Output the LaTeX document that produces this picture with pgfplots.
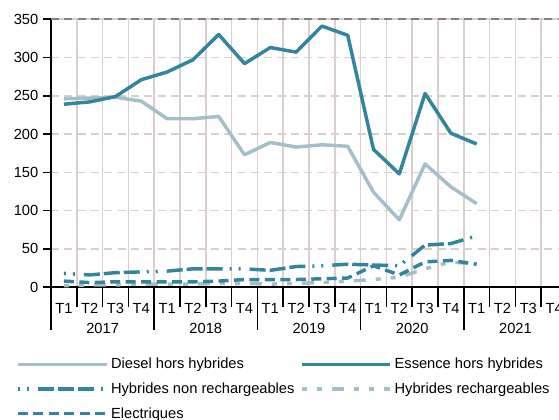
\documentclass[border=0pt]{standalone}
\usepackage{pgfplots}
\pgfplotsset{compat=1.18}
\usepackage{fontspec}
\setmainfont{Liberation Sans}
\definecolor{teal1}{HTML}{31859C}
\definecolor{teal2}{HTML}{A3BFC9}
\definecolor{gridc}{HTML}{DACECE}
\begin{document}
\begin{tikzpicture}
\begin{axis}[
  name=ax, scale only axis, width=387pt, height=201pt,
  xmin=-0.5, xmax=19.5, ymin=0, ymax=350,
  axis lines=left, axis line style={-, black, line width=1.1pt},
  clip mode=individual,
  font=\fontsize{11}{13}\selectfont,
  tick label style={font=\fontsize{11}{13}\selectfont},
  /pgf/number format/assume math mode=true,
  ytick={0,50,...,350},
  ymajorgrids, major grid style={gridc, line width=1.1pt, dash pattern=on 6pt off 4pt},
  xtick={0,...,19},
  xticklabels={T1,T2,T3,T4,T1,T2,T3,T4,T1,T2,T3,T4,T1,T2,T3,T4,T1,T2,T3,T4},
  xticklabel style={yshift=-2.5pt},
  minor xtick={-0.5,0.5,...,19.5},
  xminorgrids, minor grid style={gridc, line width=1.1pt},
  tick align=outside, major tick length=6pt, minor tick length=15pt,
  major x tick style={draw=none},
  minor x tick style={black, line width=1.1pt},
  ytick style={black, line width=1.1pt},
  extra x ticks={-0.5,3.5,7.5,11.5,15.5,19.5},
  extra x tick labels={},
  extra x tick style={major tick length=32pt, major x tick style={draw=black, line width=1.1pt}, grid=none},
  legend columns=2,
  legend style={at={(0,0)}, anchor=north west, xshift=-26.25pt, yshift=-51pt, draw=none, fill=none, inner sep=0pt, font=\fontsize{11}{13}\selectfont, row sep=5pt, /tikz/every even column/.append style={column sep=2pt}},
  legend cell align=left,
  legend image code/.code={\draw[#1, line cap=butt] (0pt,0pt) -- (66.5pt,0pt);},
]
\addplot[teal2, line width=2.6pt, line join=round] coordinates {
(0,246)(1,247)(2,248)(3,243)(4,220)(5,220)(6,223)(7,173)(8,189)(9,183)(10,186)(11,184)(12,124)(13,88)(14,161)(15,131)(16,109)};
\addlegendentry{Diesel hors hybrides}
\addplot[teal1, line width=2.6pt, line join=round] coordinates {
(0,239)(1,242)(2,249)(3,271)(4,281)(5,297)(6,330)(7,292)(8,313)(9,307)(10,341)(11,329)(12,180)(13,148)(14,253)(15,201)(16,187)};
\addlegendentry{Essence hors hybrides}
\addplot[teal1, line width=2.6pt, dash pattern=on 1.5pt off 5.25pt on 1.5pt off 6.75pt on 12pt off 3pt on 12pt off 3pt on 12pt off 5.25pt] coordinates {
(0,18)(1,16)(2,19)(3,20)(4,21)(5,24)(6,24)(7,24)(8,22)(9,27)(10,28)(11,30)(12,29)(13,28)(14,55)(15,57)(16,67)};
\addlegendentry{Hybrides non rechargeables}
\addplot[teal2, line width=2.6pt, dash pattern=on 3.75pt off 7.5pt on 3.75pt off 7.5pt on 9pt off 7.5pt] coordinates {
(0,2)(1,3)(2,3)(3,4)(4,4)(5,4)(6,5)(7,5)(8,4)(9,5)(10,6)(11,8)(12,10)(13,13)(14,24)(15,33)(16,30)};
\addlegendentry{Hybrides rechargeables}
\addplot[teal1, line width=2.6pt, dash pattern=on 7.5pt off 4.1pt] coordinates {
(0,8)(1,6)(2,7)(3,7)(4,7)(5,7)(6,8)(7,10)(8,10)(9,10)(10,11)(11,12)(12,28)(13,16)(14,33)(15,35)(16,30)};
\addlegendentry{Electriques}
\draw[gridc, line width=1.1pt] (rel axis cs:0,1) -- (rel axis cs:1,1);
\draw[gray, line width=1.1pt, dash pattern=on 6pt off 4pt] (rel axis cs:0,1) -- (rel axis cs:1,1);
\node[yshift=-30.75pt] at (axis cs:1.5,0) {2017};
\node[yshift=-30.75pt] at (axis cs:5.5,0) {2018};
\node[yshift=-30.75pt] at (axis cs:9.5,0) {2019};
\node[yshift=-30.75pt] at (axis cs:13.5,0) {2020};
\node[yshift=-30.75pt] at (axis cs:17.5,0) {2021};
\end{axis}
\pgfresetboundingbox
\useasboundingbox (ax.south west) ++(-38.25pt,-99.6pt) rectangle ++(419.25pt,315pt);
\end{tikzpicture}
\end{document}
